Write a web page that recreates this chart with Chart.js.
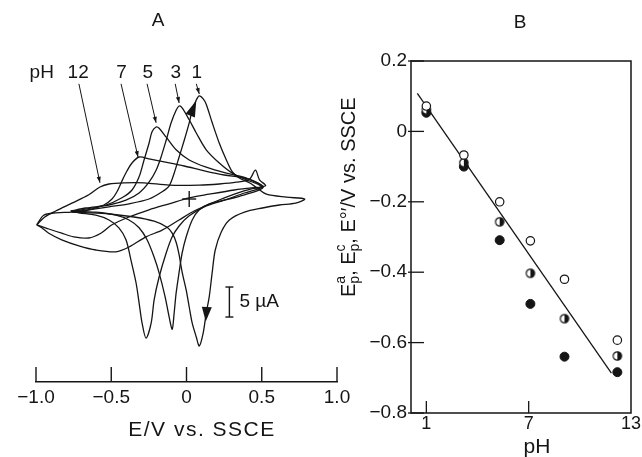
<!DOCTYPE html>
<html>
<head>
<meta charset="utf-8">
<script src="https://cdn.jsdelivr.net/npm/chart.js@4.4.1/dist/chart.umd.min.js"></script>
<style>
  html, body { margin: 0; padding: 0; background: #fff; overflow: hidden; }
  #wrap { position: relative; width: 642px; height: 457px; }
  canvas { position: absolute; top: 0; }
  #cvChart { left: 0; }
  #phChart { left: 330px; }
</style>
</head>
<body>
<div id="wrap">
  <canvas id="cvChart" width="360" height="457"></canvas>
  <canvas id="phChart" width="312" height="457"></canvas>
</div>
<script>
// ---- Panel A : voltammograms, E in V vs. SSCE, i in µA (anodic up) ----
const ph1E = [-0.762, -0.649, -0.515, -0.382, -0.249, -0.162, -0.115, -0.082, -0.049, -0.015, 0.018, 0.038, 0.065,
  0.085, 0.111, 0.131, 0.171, 0.218, 0.265, 0.305, 0.351, 0.418, 0.471, 0.531, 0.665, 0.785,
  0.725, 0.618, 0.505, 0.385, 0.285, 0.231, 0.191, 0.171, 0.151, 0.131, 0.111, 0.085, 0.065,
  0.038, 0.018, -0.002, -0.029, -0.049, -0.069, -0.095, -0.129, -0.215, -0.349, -0.515, -0.649, -0.762];
const ph1I = [-2.2, -1.8, -1.3, -0.8, 0.0, 1.2, 2.2, 4.3, 7.0, 9.8, 12.7, 14.8, 16.5,
  17.2, 16.7, 15.8, 12.7, 9.3, 6.5, 4.5, 3.5, 2.7, 1.8, 0.8, 0.3, 0.0,
  -0.7, -1.0, -1.5, -2.2, -3.5, -5.5, -8.5, -12.2, -16.3, -19.0, -22.3, -24.5, -23.0,
  -20.7, -18.0, -15.2, -12.2, -9.3, -7.2, -5.7, -4.7, -3.7, -3.0, -2.5, -2.3, -2.2];

const ph3E = [-0.769, -0.669, -0.515, -0.402, -0.315, -0.249, -0.202, -0.169, -0.135, -0.102, -0.069, -0.049,
  -0.029, 0.018, 0.065, 0.131, 0.218, 0.305, 0.398, 0.471, 0.505,
  0.385, 0.251, 0.151, 0.085, 0.038, -0.002, -0.029, -0.049, -0.069, -0.082, -0.095,
  -0.115, -0.142, -0.182, -0.215, -0.262, -0.315, -0.382, -0.469, -0.602, -0.769];
const ph3I = [-2.0, -1.5, -1.0, -0.2, 1.0, 2.8, 4.8, 7.0, 9.8, 12.7, 14.8, 15.5,
  15.2, 13.2, 11.0, 8.2, 6.0, 4.3, 3.2, 2.5, 1.8,
  0.7, -0.2, -0.8, -1.8, -3.5, -6.3, -9.0, -12.2, -15.7, -19.0, -21.7,
  -19.7, -16.3, -12.3, -9.7, -6.8, -4.8, -3.5, -2.7, -2.2, -2.0];

const ph5E = [-0.769, -0.695, -0.535, -0.429, -0.362, -0.315, -0.282, -0.249, -0.229, -0.202, -0.182, -0.135,
  -0.069, 0.018, 0.131, 0.265, 0.398, 0.471, 0.505,
  0.385, 0.251, 0.118, 0.018, -0.049, -0.095, -0.135, -0.182, -0.215, -0.235, -0.269,
  -0.295, -0.315, -0.335, -0.369, -0.402, -0.449, -0.515, -0.602, -0.715, -0.769];
const ph5I = [-2.0, -1.8, -1.0, 0.2, 1.5, 3.7, 6.5, 9.3, 11.2, 12.0, 11.8, 10.3,
  8.2, 6.5, 5.3, 4.3, 3.5, 2.7, 2.0,
  1.0, -0.2, -1.3, -2.8, -4.5, -6.3, -9.0, -13.0, -16.8, -20.7, -23.2,
  -20.7, -17.3, -14.0, -10.2, -6.8, -4.8, -3.5, -2.7, -2.3, -2.0];

const ph7E = [-0.995, -0.949, -0.869, -0.762, -0.649, -0.549, -0.495, -0.462, -0.429, -0.395, -0.362, -0.315,
  -0.249, -0.149, -0.015, 0.118, 0.251, 0.385, 0.471, 0.511,
  0.431, 0.318, 0.185, 0.051, -0.049, -0.162, -0.269, -0.382, -0.469, -0.602, -0.715, -0.829, -0.915, -0.962, -0.995];
const ph7I = [-4.3, -2.7, -2.3, -2.2, -1.8, -1.0, 0.0, 1.2, 3.0, 4.7, 6.0, 7.0,
  6.7, 6.2, 5.5, 4.7, 4.0, 3.5, 2.7, 2.0,
  1.7, 0.8, -0.5, -2.0, -3.5, -5.2, -6.3, -8.0, -8.8, -8.5, -7.8, -6.8, -5.7, -4.8, -4.3];

const ph12E = [-0.995, -0.942, -0.869, -0.762, -0.649, -0.575, -0.515, -0.415, -0.282, -0.115, 0.085, 0.218,
  0.331, 0.418, 0.458, 0.485, 0.525,
  0.418, 0.318, 0.151, 0.018, -0.115, -0.249, -0.382, -0.495, -0.569, -0.649, -0.749, -0.829, -0.915, -0.995];
const ph12I = [-4.3, -3.0, -2.0, -0.7, 0.7, 2.0, 2.5, 2.7, 2.7, 2.3, 2.3, 2.5,
  2.8, 3.3, 4.8, 3.2, 2.2,
  1.8, 1.5, 0.8, 0.2, -0.8, -1.8, -3.0, -4.3, -5.7, -6.5, -6.3, -5.7, -5.0, -4.3];

const cvTicks = [-1, -0.5, 0, 0.5, 1];
const cvTickLabels = ['\u22121.0', '\u22120.5', '0', '0.5', '1.0'];

// ---- Panel B : peak potentials against pH ----
const phValues = [1, 3.2, 5.3, 7.1, 9.1, 12.2];
const epaValues = [0.072, -0.067, -0.200, -0.311, -0.420, -0.593];   // open circles
const e0Values  = [0.061, -0.089, -0.257, -0.403, -0.532, -0.638];   // half-filled
const epcValues = [0.053, -0.100, -0.309, -0.490, -0.640, -0.684];   // filled
const fitPh = [0.47, 11.85];
const fitE = [0.108, -0.687];
const phTicks = [1, 7, 13];
const eTicks = [-0.8, -0.6, -0.4, -0.2, 0, 0.2];
const eTickLabels = ['\u22120.8', '\u22120.6', '\u22120.4', '\u22120.2', '0', '0.2'];

const INK = '#151515';
const FAMILY = "'Liberation Sans', Arial, sans-serif";
Chart.defaults.font.family = FAMILY;
Chart.defaults.color = INK;

function pts(xs, ys) {
    return xs.map((v, k) => ({ x: v, y: ys[k] }));
}

function seg(ctx, x0, y0, x1, y1) {
    ctx.beginPath();
    ctx.moveTo(x0, y0);
    ctx.lineTo(x1, y1);
    ctx.stroke();
}

// petite flèche en bout de trait
function arrow(ctx, x0, y0, x1, y1, head) {
    seg(ctx, x0, y0, x1, y1);
    const a = Math.atan2(y1 - y0, x1 - x0);
    const c = Math.cos(a), s = Math.sin(a);
    ctx.beginPath();
    ctx.moveTo(x1, y1);
    ctx.lineTo(x1 - head * c + head * 0.35 * s, y1 - head * s - head * 0.35 * c);
    ctx.lineTo(x1 - head * c - head * 0.35 * s, y1 - head * s + head * 0.35 * c);
    ctx.closePath();
    ctx.fill();
}

function triangle(ctx, tx, ty, bx, by, w) {
    const a = Math.atan2(ty - by, tx - bx);
    const nx = -Math.sin(a) * w, ny = Math.cos(a) * w;
    ctx.beginPath();
    ctx.moveTo(tx, ty);
    ctx.lineTo(bx + nx, by + ny);
    ctx.lineTo(bx - nx, by - ny);
    ctx.closePath();
    ctx.fill();
}

// Décor du panneau A : graduations, étiquettes pH, flèches, échelle
const cvDecor = {
    id: 'cvDecor',
    afterDraw(chart) {
        const { ctx, chartArea: area, scales: { x, y } } = chart;
        const px = e => x.getPixelForValue(e);
        const py = i => y.getPixelForValue(i);
        ctx.save();
        ctx.strokeStyle = INK;
        ctx.fillStyle = INK;
        ctx.lineWidth = 1.4;

        cvTicks.forEach(v => seg(ctx, px(v), area.bottom, px(v), area.bottom - 15));

        ctx.textAlign = 'center';
        ctx.textBaseline = 'middle';
        ctx.font = `19px ${FAMILY}`;
        ctx.fillText('pH', px(-0.962), py(21));
        ctx.fillText('12', px(-0.72), py(21));
        ctx.fillText('7', px(-0.432), py(21));
        ctx.fillText('5', px(-0.257), py(21));
        ctx.fillText('3', px(-0.071), py(21));
        ctx.fillText('1', px(0.068), py(21));

        ctx.lineWidth = 1;
        arrow(ctx, px(-0.715), py(19.2), px(-0.575), py(2.7), 6);
        arrow(ctx, px(-0.435), py(19.2), px(-0.322), py(7.0), 6);
        arrow(ctx, px(-0.262), py(19.2), px(-0.202), py(12.7), 6);
        arrow(ctx, px(-0.075), py(19.2), px(-0.049), py(16.0), 6);
        arrow(ctx, px(0.065), py(19.2), px(0.085), py(17.5), 6);

        // sens de balayage
        triangle(ctx, px(0.065), py(16.4), px(0.025), py(13.9), 5);
        triangle(ctx, px(0.128), py(-20.4), px(0.135), py(-18.0), 5);

        // croix d'origine
        ctx.lineWidth = 1.4;
        seg(ctx, px(0.018) - 7, py(0), px(0.018) + 7, py(0));
        seg(ctx, px(0.018), py(0) - 8, px(0.018), py(0) + 8);

        // barre 5 µA
        const bx = px(0.285);
        seg(ctx, bx, py(-14.67), bx, py(-19.67));
        seg(ctx, bx - 4, py(-14.67), bx + 4, py(-14.67));
        seg(ctx, bx - 4, py(-19.67), bx + 4, py(-19.67));
        ctx.textAlign = 'left';
        ctx.fillText('5 \u00b5A', bx + 10, py(-17.2));

        ctx.textAlign = 'center';
        ctx.fillText('A', 158, 21);
        ctx.font = `21px ${FAMILY}`;
        ctx.letterSpacing = '1.5px';
        ctx.fillText('E/V vs. SSCE', 202, 430);
        ctx.restore();
    }
};

const cvSets = [
    [ph1E, ph1I], [ph3E, ph3I], [ph5E, ph5I], [ph7E, ph7I], [ph12E, ph12I]
].map(([e, i]) => ({
    data: pts(e, i),
    showLine: true,
    borderColor: INK,
    borderWidth: 1.3,
    pointRadius: 0,
    tension: 0.3,
    fill: false
}));

new Chart(document.getElementById('cvChart'), {
    type: 'scatter',
    data: { datasets: cvSets },
    options: {
        responsive: false,
        animation: false,
        events: [],
        layout: { padding: { left: 36, right: 23, top: 40, bottom: 0 } },
        plugins: { legend: { display: false }, tooltip: { enabled: false } },
        scales: {
            x: {
                type: 'linear',
                min: -1,
                max: 1,
                position: 'bottom',
                grid: { display: false, drawTicks: false },
                border: { display: true, color: INK, width: 1.4 },
                afterBuildTicks: s => { s.ticks = cvTicks.map(v => ({ value: v })); },
                afterFit: s => { s.height = 75; },
                ticks: {
                    padding: 4,
                    autoSkip: false,
                    maxRotation: 0,
                    color: INK,
                    font: { size: 19 },
                    callback: (v, idx) => cvTickLabels[idx]
                }
            },
            y: { display: false, min: -30.5, max: 26.5 }
        }
    },
    plugins: [cvDecor]
});

// ---- Panel B ----
function halfDot(r) {
    const c = document.createElement('canvas');
    const s = Math.ceil(2 * r + 3);
    c.width = s;
    c.height = s;
    const g = c.getContext('2d');
    const m = s / 2;
    g.fillStyle = '#fff';
    g.beginPath(); g.arc(m, m, r, 0, 2 * Math.PI); g.fill();
    g.fillStyle = INK;
    g.beginPath(); g.arc(m, m, r, -Math.PI / 2, Math.PI / 2); g.closePath(); g.fill();
    g.strokeStyle = INK; g.lineWidth = 1.2;
    g.beginPath(); g.arc(m, m, r, 0, 2 * Math.PI); g.stroke();
    return c;
}

const phDecor = {
    id: 'phDecor',
    afterDraw(chart) {
        const { ctx, chartArea: a, scales: { x, y } } = chart;
        ctx.save();
        ctx.strokeStyle = INK;
        ctx.fillStyle = INK;
        ctx.lineWidth = 1.5;
        ctx.strokeRect(a.left, a.top, a.right - a.left, a.bottom - a.top);
        ctx.lineWidth = 1.3;
        eTicks.forEach(v => seg(ctx, a.left - 3, y.getPixelForValue(v), a.left + 13, y.getPixelForValue(v)));
        [1, 7].forEach(v => seg(ctx, x.getPixelForValue(v), a.bottom, x.getPixelForValue(v), a.bottom - 12));

        ctx.textAlign = 'center';
        ctx.textBaseline = 'middle';
        ctx.font = `19px ${FAMILY}`;
        ctx.fillText('B', 190, 23);
        ctx.font = `21px ${FAMILY}`;
        ctx.fillText('pH', 207, 447);

        // titre vertical avec indices / exposants
        ctx.translate(19, 297);
        ctx.rotate(-Math.PI / 2);
        ctx.textAlign = 'left';
        const big = `20px ${FAMILY}`, small = `14px ${FAMILY}`;
        let pos = 0;
        const put = (t, f, dy) => { ctx.font = f; ctx.fillText(t, pos, dy); return ctx.measureText(t).width; };
        const stack = (lo, hi) => { const w = Math.max(put(lo, small, 6), put(hi, small, -8)); pos += w; };
        pos += put('E', big, 0);
        stack('p', 'a');
        pos += put(', E', big, 0);
        stack('p', 'c');
        put(', E\u00b0\u2032/V vs. SSCE', big, 0);
        ctx.restore();
    }
};

new Chart(document.getElementById('phChart'), {
    type: 'scatter',
    data: {
        datasets: [
            {
                data: pts(phValues, epaValues),
                pointStyle: 'circle', pointRadius: 4.2,
                backgroundColor: '#fff', borderColor: INK, borderWidth: 1.2
            },
            {
                data: pts(phValues, e0Values),
                pointStyle: halfDot(4.2), pointRadius: 4.2
            },
            {
                data: pts(phValues, epcValues),
                pointStyle: 'circle', pointRadius: 4.5,
                backgroundColor: INK, borderColor: INK, borderWidth: 1
            },
            {
                data: pts(fitPh, fitE),
                showLine: true, pointRadius: 0,
                borderColor: INK, borderWidth: 1.3
            }
        ]
    },
    options: {
        responsive: false,
        animation: false,
        events: [],
        layout: { padding: { left: 0, right: 11, top: 61, bottom: 0 } },
        plugins: { legend: { display: false }, tooltip: { enabled: false } },
        scales: {
            x: {
                type: 'linear',
                min: 0.1,
                max: 13,
                grid: { display: false, drawTicks: false },
                border: { display: false },
                afterBuildTicks: s => { s.ticks = phTicks.map(v => ({ value: v })); },
                afterFit: s => { s.height = 44; },
                ticks: {
                    padding: 0, autoSkip: false, maxRotation: 0, color: INK,
                    font: { size: 18 },
                    callback: v => String(v)
                }
            },
            y: {
                type: 'linear',
                min: -0.8,
                max: 0.2,
                grid: { display: false, drawTicks: false },
                border: { display: false },
                afterBuildTicks: s => { s.ticks = eTicks.map(v => ({ value: v })); },
                afterFit: s => { s.width = 81; },
                ticks: {
                    padding: 4, autoSkip: false, color: INK,
                    font: { size: 19 },
                    callback: (v, idx) => eTickLabels[idx]
                }
            }
        }
    },
    plugins: [phDecor]
});
</script>
</body>
</html>
